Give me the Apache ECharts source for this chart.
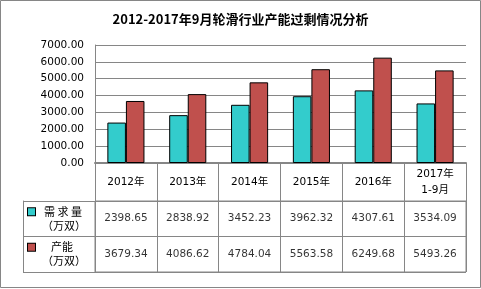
<!DOCTYPE html>
<html><head><meta charset="utf-8">
<script src="https://cdn.jsdelivr.net/npm/echarts@6/dist/echarts.min.js"></script>
<style>html,body{margin:0;padding:0;background:#fff}#c{width:481px;height:289px}</style>
</head><body><div id="c"></div>
<script>
var titleText = '2012-2017年9月轮滑行业产能过剩情况分析';
var categories = ['2012年','2013年','2014年','2015年','2016年','2017年\n1-9月'];
var demand = [2398.65, 2838.92, 3452.23, 3962.32, 4307.61, 3534.09];
var capacity = [3679.34, 4086.62, 4784.04, 5563.58, 6249.68, 5493.26];
var seriesNames = ['需求量', '产能'];
var yTicks = {min: 0, max: 7000, interval: 1000};

var TEAL = '#33CCCC', RED = '#C0504D', GRAY = '#868686';
var NUMFONT = '"DejaVu Sans", "Noto Sans CJK SC", sans-serif';
var CJKFONT = '"Noto Sans CJK SC", sans-serif';

var cells = [];
for (var i = 0; i < categories.length; i++) {
  cells.push([i, 0, demand[i]]);
  cells.push([i, 1, capacity[i]]);
}

var chart = echarts.init(document.getElementById('c'), null, {renderer: 'canvas'});
chart.setOption({
  animation: false,
  title: {
    text: titleText, left: 'center', top: 8,
    textStyle: {fontSize: 13, fontWeight: 'bold', color: '#000', fontFamily: CJKFONT}
  },
  graphic: [{type: 'rect', shape: {x: 0.5, y: 0.5, width: 480, height: 287}, style: {fill: 'none', stroke: GRAY, lineWidth: 1}, silent: true}],
  grid: [
    {left: 95, right: 15, top: 45, height: 118},
    {left: 95, right: 15, top: 201, height: 71, show: true, borderColor: GRAY, borderWidth: 1}
  ],
  xAxis: [
    {
      type: 'category', gridIndex: 0, data: categories,
      axisLine: {show: true, lineStyle: {color: GRAY, width: 2}},
      axisTick: {show: true, inside: false, length: 38, alignWithLabel: false, lineStyle: {color: GRAY, width: 1}, interval: 0},
      axisLabel: {interval: 0, margin: 19, verticalAlign: 'middle', lineHeight: 16, color: '#000', fontSize: 10.5, fontFamily: NUMFONT}
    },
    {
      type: 'category', gridIndex: 1, data: categories,
      axisLine: {show: false}, axisTick: {show: false}, axisLabel: {show: false},
      splitLine: {show: true, interval: 0, lineStyle: {color: GRAY, width: 1}}
    }
  ],
  yAxis: [
    {
      type: 'value', gridIndex: 0, min: yTicks.min, max: yTicks.max, interval: yTicks.interval,
      axisLine: {show: true, lineStyle: {color: GRAY, width: 1}},
      axisTick: {show: false},
      splitLine: {show: true, lineStyle: {color: GRAY, width: 1}},
      axisLabel: {margin: 11, color: '#000', fontSize: 10.5, fontFamily: NUMFONT,
        formatter: function (v) { return v.toFixed(2); }}
    },
    {
      type: 'category', gridIndex: 1, data: seriesNames, inverse: true,
      axisLine: {show: false},
      axisTick: {show: true, length: 72, lineStyle: {color: GRAY, width: 1}},
      splitLine: {show: true, lineStyle: {color: GRAY, width: 1}},
      axisLabel: {
        margin: 67, align: 'left', color: '#000', fontSize: 11, fontFamily: CJKFONT, lineHeight: 14,
        formatter: function (v) {
          if (v === seriesNames[0]) return '{sq0|}{g0|}{t|需 求 量}\n{g2|}{t|（万双）}';
          return '{sq1|}{g1|}{t|产能}\n{g2|}{t|（万双）}';
        },
        rich: {
          sq0: {width: 7, height: 7, backgroundColor: TEAL, borderColor: '#000', borderWidth: 1},
          sq1: {width: 7, height: 7, backgroundColor: RED, borderColor: '#000', borderWidth: 1},
          g0: {width: 9, height: 1},
          g1: {width: 16, height: 1},
          g2: {width: 14, height: 1},
          t: {fontSize: 11, fontFamily: CJKFONT, color: '#000', lineHeight: 14}
        }
      }
    },
    {
      type: 'value', gridIndex: 1, min: 0, max: 1, position: 'left', offset: 72,
      axisLine: {show: true, lineStyle: {color: GRAY, width: 1}},
      axisTick: {show: false}, axisLabel: {show: false}, splitLine: {show: false}
    }
  ],
  series: [
    {
      name: seriesNames[0], type: 'bar', xAxisIndex: 0, yAxisIndex: 0, data: demand,
      barGap: '0%', barCategoryGap: '40%',
      itemStyle: {color: TEAL, borderColor: '#000', borderWidth: 1}
    },
    {
      name: seriesNames[1], type: 'bar', xAxisIndex: 0, yAxisIndex: 0, data: capacity,
      barGap: '0%', barCategoryGap: '40%',
      itemStyle: {color: RED, borderColor: '#000', borderWidth: 1}
    },
    {
      type: 'scatter', xAxisIndex: 1, yAxisIndex: 1, data: cells, symbolSize: 1,
      itemStyle: {color: 'rgba(0,0,0,0)'},
      label: {show: true, position: 'inside', color: '#000', fontSize: 10.5, fontFamily: NUMFONT,
        formatter: function (p) { return p.value[2].toFixed(2); }}
    }
  ]
});
</script></body></html>
